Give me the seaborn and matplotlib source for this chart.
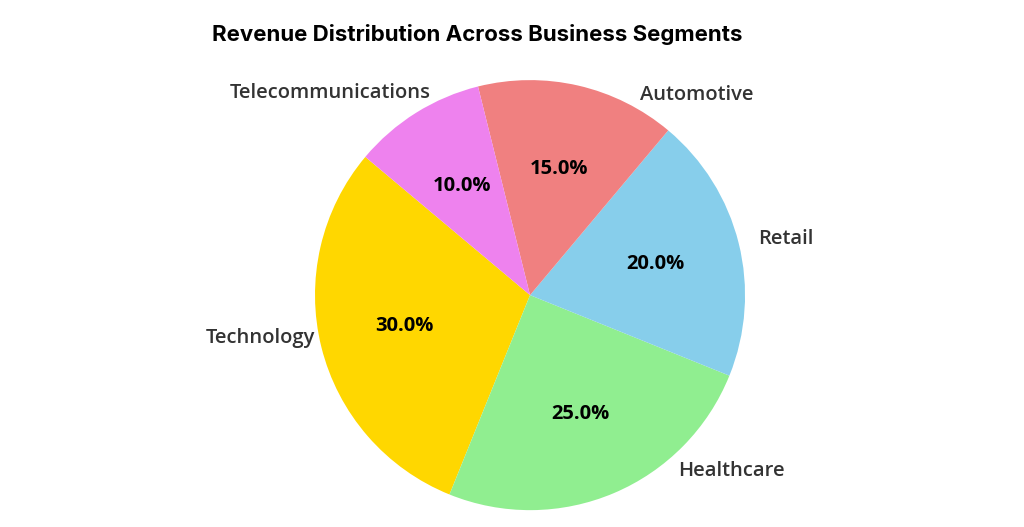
import matplotlib
matplotlib.use('Agg')
import matplotlib.pyplot as plt
import seaborn as sns

# data
segments = ['Technology', 'Healthcare', 'Retail', 'Automotive', 'Telecommunications']
revenue_share = [30, 25, 20, 15, 10]
colors = ['gold', 'lightgreen', 'skyblue', 'lightcoral', 'violet']

sns.set_style('white')
plt.rcParams['font.family'] = ['Open Sans', 'DejaVu Sans']

# label placement (data coords, unit radius) - tweaked by eye
label_pos = [(-1.0, -0.2, 'right'), (0.69, -0.82, 'left'), (1.06, 0.26, 'left'),
             (0.51, 0.93, 'left'), (-0.46, 0.94, 'right')]

fig = plt.figure(figsize=(10.24, 5.27), dpi=100)
ax = fig.add_axes([0.3076, 0.032, 0.42, 0.816])

wedges, texts, autotexts = ax.pie(
    revenue_share, labels=segments, colors=sns.color_palette(colors),
    autopct='%1.1f%%', startangle=140, pctdistance=0.6,
    wedgeprops={'linewidth': 0},
    textprops={'fontsize': 14.5, 'color': '#333333', 'fontweight': 'semibold'})

for t, (x, y, ha) in zip(texts, label_pos):
    t.set_position((x, y))
    t.set_ha(ha)
    t.set_va('center')

for t in autotexts:
    t.set_color('black')
    t.set_fontsize(14.5)
    t.set_fontweight('bold')

ax.set_xlim(-1, 1)
ax.set_ylim(-1, 1)
ax.set_aspect('equal')
fig.text(0.466, 0.934, 'Revenue Distribution Across Business Segments',
         ha='center', va='center', fontsize=16, fontweight='bold', color='black',
         family=['Inter', 'DejaVu Sans'])

fig.savefig('out.png', dpi=100)
